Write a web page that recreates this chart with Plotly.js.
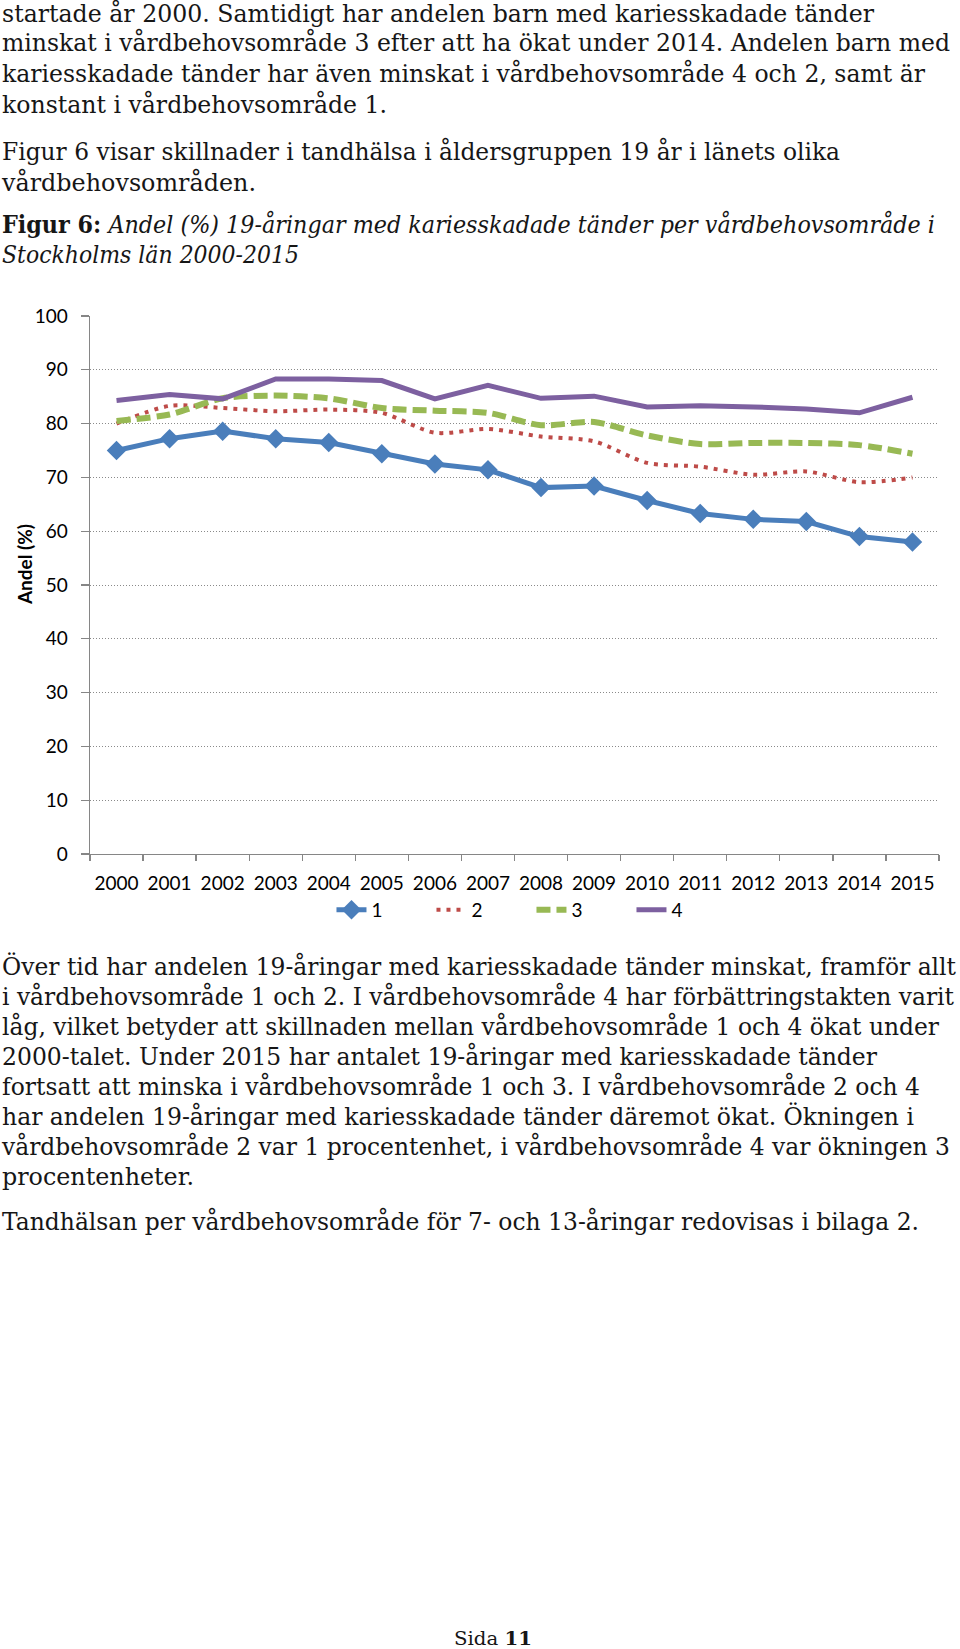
<!DOCTYPE html>
<html>
<head>
<meta charset="utf-8">
<script src="https://cdn.plot.ly/plotly-3.0.1.min.js"></script>
<style>
  html, body { margin: 0; padding: 0; background: #fff; }
  #page { position: relative; width: 960px; height: 1649px; overflow: hidden; background: #fff; }
  #txt { position: absolute; left: 0; top: 0; }
  #chart { position: absolute; left: 0; top: 280px; width: 960px; height: 660px; }
  .body { font-family: "DejaVu Serif", "Liberation Serif", serif; fill: #161616; }
</style>
</head>
<body>
<div id="page">
  <svg id="txt" width="960" height="1649" xmlns="http://www.w3.org/2000/svg"></svg>
  <div id="chart"></div>
</div>
<script>
// ---- chart data ----
var years = ['2000','2001','2002','2003','2004','2005','2006','2007','2008','2009','2010','2011','2012','2013','2014','2015'];
var omr1 = [75.0, 77.2, 78.6, 77.2, 76.5, 74.4, 72.5, 71.4, 68.1, 68.4, 65.7, 63.3, 62.2, 61.8, 59.0, 58.0];
var omr2 = [80.0, 83.3, 82.9, 82.3, 82.6, 82.0, 78.3, 79.0, 77.6, 76.7, 72.7, 72.0, 70.5, 71.1, 69.1, 70.0];
var omr3 = [80.5, 81.7, 84.7, 85.2, 84.7, 82.9, 82.4, 82.0, 79.7, 80.3, 77.8, 76.2, 76.4, 76.4, 76.0, 74.4];
var omr4 = [84.3, 85.4, 84.6, 88.3, 88.3, 88.0, 84.6, 87.1, 84.7, 85.1, 83.1, 83.3, 83.1, 82.7, 82.0, 84.9];
var seriesNames = ['1', '2', '3', '4'];
var yTicks = [0, 10, 20, 30, 40, 50, 60, 70, 80, 90, 100];
var yTitle = 'Andel (%)';

// ---- page text ----
var topLines = [
  ['startade år 2000. Samtidigt har andelen barn med kariesskadade tänder', 872, 22.4],
  ['minskat i vårdbehovsområde 3 efter att ha ökat under 2014. Andelen barn med', 948, 51.2],
  ['kariesskadade tänder har även minskat i vårdbehovsområde 4 och 2, samt är', 923, 81.7],
  ['konstant i vårdbehovsområde 1.', 385, 112.5],
  ['Figur 6 visar skillnader i tandhälsa i åldersgruppen 19 år i länets olika', 838, 159.5],
  ['vårdbehovsområden.', 254, 190.7]
];
var captionBold = 'Figur 6:';
var captionItalic1 = ' Andel (%) 19-åringar med kariesskadade tänder per vårdbehovsområde i';
var captionItalic2 = 'Stockholms län 2000-2015';
var bottomLines = [
  ['Över tid har andelen 19-åringar med kariesskadade tänder minskat, framför allt', 954, 974.5],
  ['i vårdbehovsområde 1 och 2. I vårdbehovsområde 4 har förbättringstakten varit', 952, 1004.5],
  ['låg, vilket betyder att skillnaden mellan vårdbehovsområde 1 och 4 ökat under', 937, 1035],
  ['2000-talet. Under 2015 har antalet 19-åringar med kariesskadade tänder', 875, 1065],
  ['fortsatt att minska i vårdbehovsområde 1 och 3. I vårdbehovsområde 2 och 4', 918, 1095],
  ['har andelen 19-åringar med kariesskadade tänder däremot ökat. Ökningen i', 912, 1125],
  ['vårdbehovsområde 2 var 1 procentenhet, i vårdbehovsområde 4 var ökningen 3', 948, 1155],
  ['procentenheter.', 192, 1185],
  ['Tandhälsan per vårdbehovsområde för 7- och 13-åringar redovisas i bilaga 2.', 917, 1230]
];

var NS = 'http://www.w3.org/2000/svg';
var svg = document.getElementById('txt');
// Draw a line of text whose glyph height matches `size` and whose width is exactly `w`.
function addLine(parts, x, y, w, size, family) {
  var t = document.createElementNS(NS, 'text');
  t.setAttribute('x', 0);
  t.setAttribute('y', 0);
  t.setAttribute('class', 'body');
  t.setAttribute('font-size', size);
  if (family) t.setAttribute('font-family', family);
  parts.forEach(function (p) {
    var s = document.createElementNS(NS, 'tspan');
    s.textContent = p.text;
    if (p.weight) s.setAttribute('font-weight', p.weight);
    if (p.style) s.setAttribute('font-style', p.style);
    t.appendChild(s);
  });
  t.setAttribute('xml:space', 'preserve');
  t.style.whiteSpace = 'pre';
  svg.appendChild(t);
  var natural = t.getComputedTextLength();
  var fs = size;
  if (natural > w) {
    fs = size * w / natural * 0.995;
    t.setAttribute('font-size', fs);
  }
  t.setAttribute('transform', 'translate(' + x + ',' + y + ') scale(1,' + (size / fs) + ')');
  t.setAttribute('textLength', w);
  t.setAttribute('lengthAdjust', 'spacingAndGlyphs');
}
topLines.forEach(function (l) { addLine([{text: l[0]}], 2, l[2], l[1], 24); });
addLine([{text: captionBold, weight: 'bold'}, {text: captionItalic1, style: 'italic'}], 2, 233, 933, 24);
addLine([{text: captionItalic2, style: 'italic'}], 2, 263, 297, 24);
bottomLines.forEach(function (l) { addLine([{text: l[0]}], 2, l[2], l[1], 24.5); });
addLine([{text: 'Sida '}, {text: '11', weight: 'bold'}], 454, 1645, 78, 18, '"DejaVu Sans", Verdana, sans-serif');

// ---- chart ----
var chartFont = 'Lato, "Open Sans", sans-serif';
var traces = [
  {x: years, y: omr1, name: seriesNames[0], type: 'scatter', mode: 'lines+markers',
   line: {color: '#4A7EBB', width: 5}, marker: {symbol: 'diamond', size: 15, color: '#4A7EBB'}},
  {x: years, y: omr2, name: seriesNames[1], type: 'scatter', mode: 'lines',
   line: {color: '#BE4B48', width: 4, dash: '4px,6px', shape: 'spline', smoothing: 0.8}},
  {x: years, y: omr3, name: seriesNames[2], type: 'scatter', mode: 'lines',
   line: {color: '#98B954', width: 6, dash: '14px,6px', shape: 'spline', smoothing: 0.8}},
  {x: years, y: omr4, name: seriesNames[3], type: 'scatter', mode: 'lines',
   line: {color: '#7D60A0', width: 5}}
];
var layout = {
  width: 960, height: 660,
  margin: {l: 90, r: 21, t: 36, b: 85},
  paper_bgcolor: 'rgba(0,0,0,0)', plot_bgcolor: 'rgba(0,0,0,0)',
  font: {family: chartFont, size: 19, color: '#000'},
  showlegend: true,
  legend: {orientation: 'h', x: 0.52, xanchor: 'center', y: -0.102, yanchor: 'middle',
           font: {family: chartFont, size: 19, color: '#000'}, bgcolor: 'rgba(0,0,0,0)',
           traceorder: 'normal', itemwidth: 30, entrywidth: 55, entrywidthmode: 'pixels'},
  xaxis: {type: 'category', range: [-0.5, 15.5], showgrid: false, zeroline: false,
          showline: true, linecolor: '#868686', linewidth: 1.3, tickangle: 0,
          ticks: 'outside', tickson: 'boundaries', ticklen: 6, tickcolor: '#868686', tickwidth: 1.3,
          ticklabelstandoff: 12, tickfont: {family: chartFont, size: 19, color: '#000'}, fixedrange: true},
  yaxis: {range: [0, 100], tickvals: yTicks, showgrid: true, gridcolor: '#8a8a8a', griddash: '1px,2px', gridwidth: 1,
          zeroline: false, showline: true, linecolor: '#868686', linewidth: 1.3,
          ticks: 'outside', ticklen: 8, tickcolor: '#868686', tickwidth: 1.3,
          ticklabelstandoff: 9, tickfont: {family: chartFont, size: 19, color: '#000'}, fixedrange: true},
  annotations: [{text: '<b>' + yTitle + '</b>', textangle: -90, xref: 'paper', yref: 'paper',
                 x: 0, y: 0.537, xanchor: 'center', yanchor: 'middle', xshift: -66, showarrow: false,
                 font: {family: chartFont, size: 19, color: '#000'}}]
};
Plotly.newPlot('chart', traces, layout, {displayModeBar: false, staticPlot: true});
</script>
</body>
</html>
